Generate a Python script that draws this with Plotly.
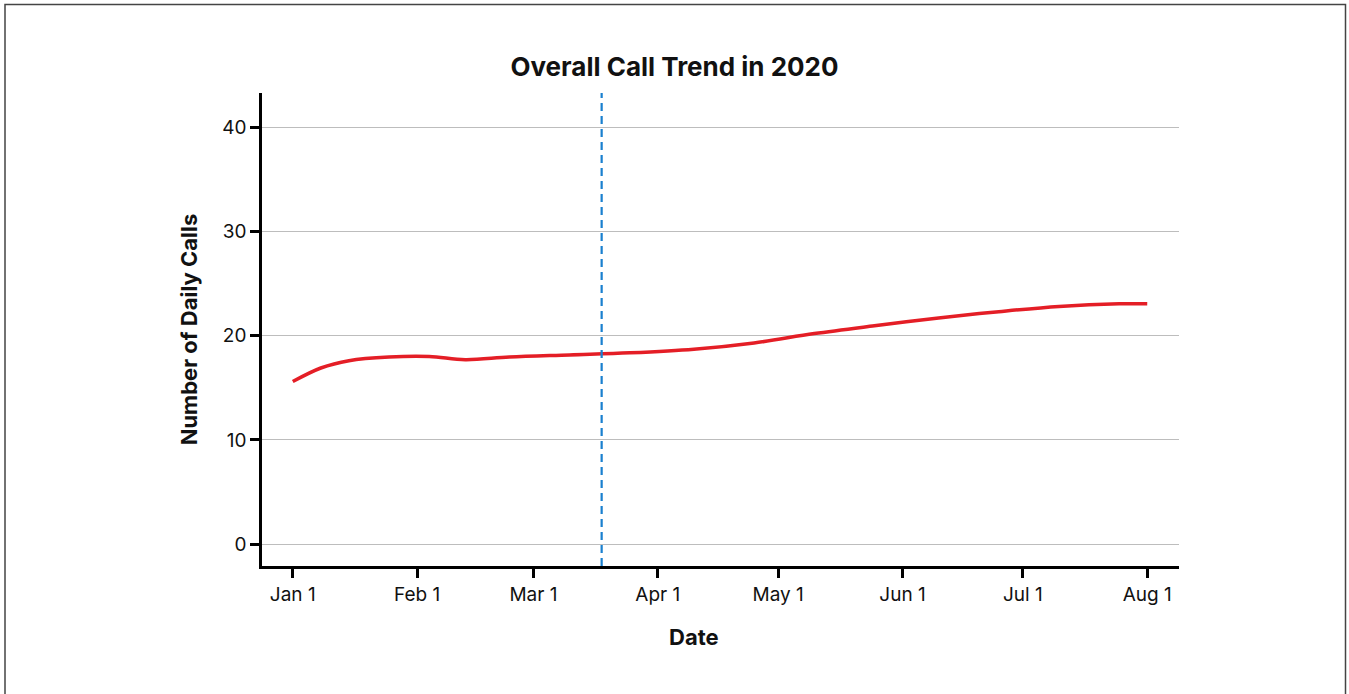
import plotly.graph_objects as go

dates = ["2020-01-01", "2020-01-08", "2020-01-15", "2020-01-25", "2020-02-04",
         "2020-02-13", "2020-02-24", "2020-03-10", "2020-03-25", "2020-04-10",
         "2020-04-25", "2020-05-10", "2020-05-25", "2020-06-10", "2020-06-25",
         "2020-07-10", "2020-07-25", "2020-08-01"]
calls = [15.6, 16.9, 17.6, 17.95, 18.0,
         17.7, 17.95, 18.15, 18.35, 18.7,
         19.3, 20.2, 20.95, 21.7, 22.3,
         22.8, 23.05, 23.05]

marker_date = "2020-03-18"
tick_dates = ["2020-01-01", "2020-02-01", "2020-03-01", "2020-04-01",
              "2020-05-01", "2020-06-01", "2020-07-01", "2020-08-01"]
tick_labels = ["Jan 1", "Feb 1", "Mar 1", "Apr 1", "May 1", "Jun 1", "Jul 1", "Aug 1"]
y_ticks = [0, 10, 20, 30, 40]

FONT = "Inter, Roboto, sans-serif"

fig = go.Figure()
fig.add_trace(go.Scatter(
    x=dates, y=calls, mode="lines",
    line=dict(color="#e41e26", width=3.5, shape="spline", smoothing=1.0),
    showlegend=False, hoverinfo="x+y",
))

fig.add_shape(type="line", xref="x", yref="paper",
              x0=marker_date, x1=marker_date, y0=0, y1=1,
              line=dict(color="#1a80cf", width=2.2, dash="8px,5px"))

# outer frame
fig.add_shape(type="rect", xref="paper", yref="paper",
              x0=(5 - 262) / 917, x1=(1345.5 - 262) / 917,
              y0=-0.35, y1=(566 - 4.5) / 473,
              line=dict(color="#444", width=1.5), fillcolor="rgba(0,0,0,0)")

# x-axis title (offset left of the plot centre as in the original)
fig.add_annotation(text="<b>Date</b>", xref="paper", yref="paper",
                   x=(694 - 262) / 917, y=(566 - 637) / 473,
                   xanchor="center", yanchor="middle", showarrow=False,
                   font=dict(size=22, family=FONT, color="#111"))

fig.update_layout(
    width=1349, height=694,
    margin=dict(l=262, r=170, t=93, b=128),
    paper_bgcolor="white", plot_bgcolor="white",
    font=dict(family=FONT, color="#111", size=19),
    title=dict(text="<b>Overall Call Trend in 2020</b>", x=0.5, xref="container",
               xanchor="center", y=1 - 67 / 694, yanchor="middle", yref="container",
               font=dict(size=26, family=FONT, color="#111")),
    xaxis=dict(
        type="date",
        range=["2019-12-24 08:00", "2020-08-08 22:00"],
        tickvals=tick_dates, ticktext=tick_labels,
        showgrid=False, zeroline=False,
        showline=True, linecolor="black", linewidth=2.5,
        ticks="outside", ticklen=9, tickwidth=2.5, tickcolor="black",
        tickfont=dict(size=19, family=FONT, color="#111"),
    ),
    yaxis=dict(
        range=[-2.08, 43.26],
        tickvals=y_ticks,
        showgrid=True, gridcolor="#bdbdbd", gridwidth=1.2, zeroline=False,
        showline=True, linecolor="black", linewidth=2.5,
        ticks="outside", ticklen=9, tickwidth=2.5, tickcolor="black",
        tickfont=dict(size=19, family=FONT, color="#111"),
        title=dict(text="<b>Number of Daily Calls</b>", font=dict(size=22, family=FONT, color="#111"), standoff=19),
    ),
)

fig.write_html("out.html", config={"displayModeBar": False},
               post_script="document.body.style.margin='0';")
